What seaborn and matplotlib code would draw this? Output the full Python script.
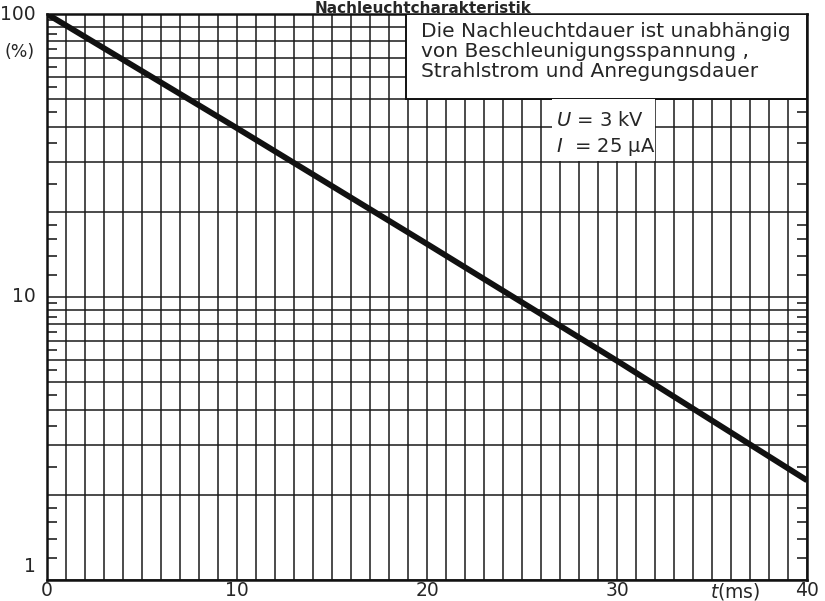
import numpy as np
import pandas as pd
import matplotlib
matplotlib.use("Agg")
import matplotlib.pyplot as plt
import matplotlib.ticker as mticker
from matplotlib.patches import Rectangle
import seaborn as sns

# ---- data ----
t_ms = [0, 10, 20, 30, 40]
intensity_pct = [100, 39.5, 15.4, 5.95, 2.25]
x_tick_labels = ["0", "10", "20", "30", "40"]
y_tick_labels = ["1", "10", "100"]
title = "Nachleuchtcharakteristik"
note = "Die Nachleuchtdauer ist unabhängig\nvon Beschleunigungsspannung ,\nStrahlstrom und Anregungsdauer"
cond_u = r"$U$ = 3 kV"
cond_i = r"$I$  = 25 µA"

sns.set_theme(style="white")
plt.rcParams["font.family"] = ["DejaVu Sans"]

df = pd.DataFrame({"t": t_ms, "p": intensity_pct})

fig = plt.figure(figsize=(8.25, 6.01), dpi=100)
ax = fig.add_axes([47/825, 1-580/601, 760/825, 566/601])

sns.lineplot(data=df, x="t", y="p", ax=ax, color="#111111", lw=4.2,
             solid_capstyle="butt", zorder=5)
ax.set_yscale("log")
ax.set_xlim(0, 40)
ax.set_ylim(1, 100)
ax.set_xlabel("")
ax.set_ylabel("")

# major (grid) positions
ygrid = [v * d for d in (1, 10) for v in range(1, 10)] + [100]
ax.yaxis.set_major_locator(mticker.FixedLocator(ygrid))
ax.yaxis.set_major_formatter(mticker.FuncFormatter(lambda v, p: ""))
yminor = [1.2, 1.4, 1.6, 1.8] + [v + 0.5 for v in range(2, 10)] + \
         [12, 14, 16, 18] + [v * 10 + 5 for v in range(2, 10)]
ax.yaxis.set_minor_locator(mticker.FixedLocator(yminor))
ax.yaxis.set_minor_formatter(mticker.NullFormatter())
ax.xaxis.set_major_locator(mticker.MultipleLocator(1))
ax.xaxis.set_major_formatter(mticker.NullFormatter())
ax.xaxis.set_minor_locator(mticker.NullLocator())

ax.tick_params(axis="both", which="major", length=0)
ax.tick_params(axis="y", which="minor", direction="in", length=7, width=1.2,
               color="#222222", left=True, right=True)
ax.grid(True, which="major", color="#1a1a1a", lw=1.1)
for s in ax.spines.values():
    s.set_color("#111111")
    s.set_linewidth(1.8)

# tick labels as text
fs = 13.5
for v, lab in zip([1, 10, 100], y_tick_labels):
    ax.annotate(lab, xy=(0, v), xycoords=("axes fraction", "data"),
                xytext=(-8, 3 if v == 1 else 0), textcoords="offset points",
                ha="right", va="center" if v != 1 else "bottom", fontsize=fs)
for v, lab in zip([0, 10, 20, 30, 40], x_tick_labels):
    ax.annotate(lab, xy=(v, 0), xycoords=("data", "axes fraction"),
                xytext=(0, -1), textcoords="offset points",
                ha="center", va="top", fontsize=fs)
fig.text(5/825, 1-52/601, "(%)", ha="left", va="center", fontsize=12.5)
ax.annotate(r"$t$(ms)", xy=(36.2, 0), xycoords=("data", "axes fraction"),
            xytext=(0, -1), textcoords="offset points",
            ha="center", va="top", fontsize=fs)

# note box
ax.add_patch(Rectangle((18.9, 50), 40 - 18.9, 50, facecolor="white",
                       edgecolor="#111111", lw=1.4, zorder=3))
ax.text(19.7, 94, note, ha="left", va="top", fontsize=14.5,
        linespacing=1.08, zorder=4)
ax.add_patch(Rectangle((26.6, 30.2), 5.4, 19.8, facecolor="white",
                       edgecolor="none", zorder=3))
ax.text(26.8, 42, cond_u, ha="left", va="center", fontsize=14, zorder=4)
ax.text(26.8, 34, cond_i, ha="left", va="center", fontsize=14, zorder=4)

fig.text(423/825, 1-1/601, title, ha="center", va="top",
         fontsize=11, fontweight="bold")

fig.savefig("out.png", dpi=100, facecolor="white")
